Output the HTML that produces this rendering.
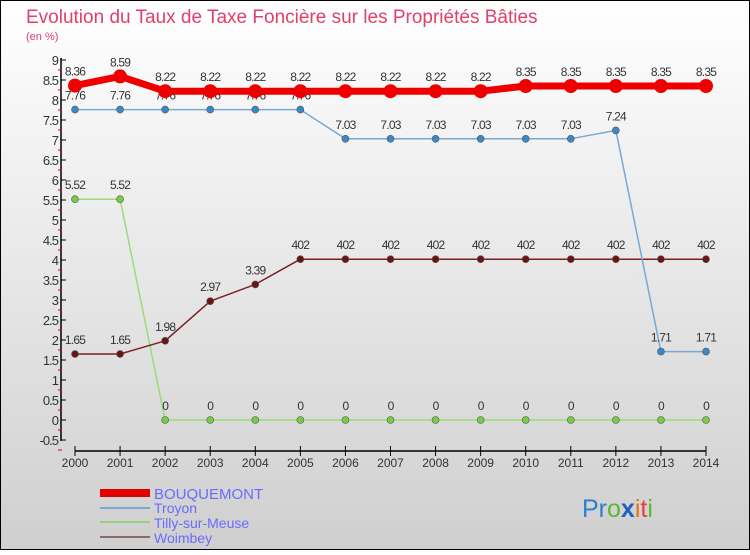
<!DOCTYPE html>
<html><head><meta charset="utf-8"><style>
body{margin:0}
svg text{font-family:"Liberation Sans",sans-serif}
</style></head><body>
<svg id="c" width="750" height="550" xmlns="http://www.w3.org/2000/svg">
<defs><linearGradient id="bg" x1="0" y1="0" x2="0" y2="1"><stop offset="0" stop-color="#ffffff"/><stop offset="1" stop-color="#cfcfcf"/></linearGradient></defs>
<rect x="0.5" y="0.5" width="749" height="549" fill="url(#bg)" stroke="#000"/>
<text x="26" y="23" font-size="19" fill="#e0406a">Evolution du Taux de Taxe Foncière sur les Propriétés Bâties</text>
<text x="26" y="40" font-size="11" fill="#e0406a">(en %)</text>
<g id="axes"></g><g id="series"></g>
<g>
<rect x="100" y="489" width="50" height="8" fill="#e00000"/>
<text x="154" y="499" font-size="15" fill="#6a6aff">BOUQUEMONT</text>
<line x1="100" y1="508" x2="150" y2="508" stroke="#7aa8d0" stroke-width="2"/>
<text x="154" y="513" font-size="14" fill="#6a6aff">Troyon</text>
<line x1="100" y1="522" x2="150" y2="522" stroke="#99d080" stroke-width="2"/>
<text x="154" y="528" font-size="14" fill="#6a6aff">Tilly-sur-Meuse</text>
<line x1="100" y1="537" x2="150" y2="537" stroke="#906868" stroke-width="2"/>
<text x="154" y="543" font-size="14" fill="#6a6aff">Woimbey</text>
</g>
<text x="582" y="517" font-size="25"><tspan fill="#2a7fd0">Pr</tspan><tspan fill="#5cb82e">o</tspan><tspan fill="#2060c0" font-weight="bold">x</tspan><tspan fill="#f07010">i</tspan><tspan fill="#e04040">t</tspan><tspan fill="#5cb82e">i</tspan></text>
</svg>
<script>
const years=[2000,2001,2002,2003,2004,2005,2006,2007,2008,2009,2010,2011,2012,2013,2014];
const bouquemont=[8.36,8.59,8.22,8.22,8.22,8.22,8.22,8.22,8.22,8.22,8.35,8.35,8.35,8.35,8.35];
const troyon=[7.76,7.76,7.76,7.76,7.76,7.76,7.03,7.03,7.03,7.03,7.03,7.03,7.24,1.71,1.71];
const tilly=[5.52,5.52,0,0,0,0,0,0,0,0,0,0,0,0,0];
const woimbey=[1.65,1.65,1.98,2.97,3.39,4.02,4.02,4.02,4.02,4.02,4.02,4.02,4.02,4.02,4.02];
const yTicks=[-0.5,0,0.5,1,1.5,2,2.5,3,3.5,4,4.5,5,5.5,6,6.5,7,7.5,8,8.5,9];
const NS="http://www.w3.org/2000/svg";
const xs=i=>75+i*(706-75)/(years.length-1);
const ys=v=>420-v*40;
function mk(t,a,p){const e=document.createElementNS(NS,t);for(const k in a)e.setAttribute(k,a[k]);p.appendChild(e);return e;}
const ax=document.getElementById('axes');
let e=mk('line',{x1:61,y1:58,x2:61,y2:441,stroke:'#000','stroke-width':1.5},ax);


e=mk('line',{x1:75,y1:451,x2:706,y2:451,stroke:'#000','stroke-width':1.5},ax);


yTicks.forEach(v=>{
  mk('line',{x1:61,y1:ys(v),x2:66,y2:ys(v),stroke:'#000'},ax);
  mk('line',{x1:58,y1:ys(v)+10,x2:62,y2:ys(v)+10,stroke:'#e00000'},ax);
  const t=mk('text',{x:58,y:ys(v)+5,'font-size':13,'text-anchor':'end',fill:'#333','letter-spacing':-1},ax);
  t.textContent=v;
  
  
});
years.forEach((y,i)=>{
  mk('line',{x1:xs(i),y1:446,x2:xs(i),y2:456,stroke:'#000'},ax);
  const t=mk('text',{x:xs(i),y:467,'font-size':12,'text-anchor':'middle',fill:'#333'},ax);
  t.textContent=y;
  
  
});
const sg=document.getElementById('series');
function series(data,name,line,w,dot,r,lab){
  const g=mk('g',{},sg);
  
  
  mk('polyline',{points:data.map((v,i)=>xs(i)+','+ys(v)).join(' '),fill:'none',stroke:line,'stroke-width':w,'stroke-linejoin':'round'},g);
  data.forEach((v,i)=>{
    const c=mk('circle',{cx:xs(i),cy:ys(v),r:r,fill:dot,stroke:'#555','stroke-width':r>5?0:0.6},g);
    
    
    const t=mk('text',{x:xs(i),y:ys(v)-10,'font-size':12,'text-anchor':'middle',fill:'#333','letter-spacing':-0.8},g);
    t.textContent=lab?lab(v):String(v);
    
    
  });
}
series(tilly,'tilly-sur-meuse','#99dd77',1.5,'#77cc44',3.5);
series(woimbey,'woimbey','#7a2020',1.5,'#6a1515',3.5,v=>v===4.02?'402':String(v));
series(troyon,'troyon','#7aa8d0',1.5,'#3a88c8',3.5);
series(bouquemont,'bouquemont','#ee0000',7,'#ee0000',7);
</script>
</body></html>
